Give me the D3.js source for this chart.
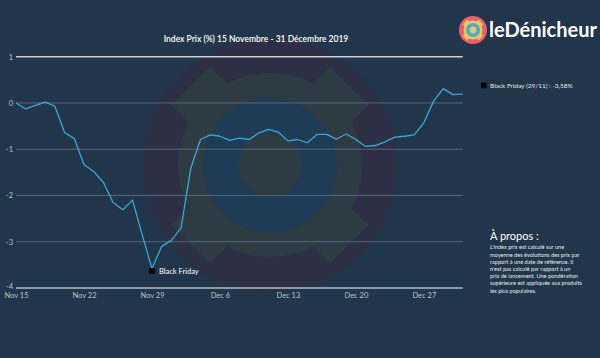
<!DOCTYPE html>
<html>
<head>
<meta charset="utf-8">
<script src="https://cdn.jsdelivr.net/npm/d3@7"></script>
<style>
html,body{margin:0;padding:0;background:#21364a;}
svg{display:block;}
text{font-family:Lato,"Open Sans",sans-serif;}
</style>
</head>
<body>
<svg id="chart" width="600" height="358"></svg>
<script>
// ---- data ----
const startDate = "2019-11-15";
const indexValues = [
  0.00, -0.13, -0.05, 0.02, -0.07, -0.64, -0.77, -1.33, -1.48, -1.72,
  -2.15, -2.31, -2.10, -2.85, -3.58, -3.10, -2.97, -2.70, -1.41, -0.79,
  -0.69, -0.72, -0.81, -0.76, -0.79, -0.65, -0.57, -0.63, -0.82, -0.79,
  -0.86, -0.68, -0.68, -0.78, -0.67, -0.79, -0.94, -0.92, -0.84, -0.74,
  -0.72, -0.69, -0.43, 0.04, 0.31, 0.18, 0.19
];
const xTickDates = ["2019-11-15","2019-11-22","2019-11-29","2019-12-06","2019-12-13","2019-12-20","2019-12-27"];
const xTickLabels = ["Nov 15","Nov 22","Nov 29","Dec 6","Dec 13","Dec 20","Dec 27"];
const yTicks = [1, 0, -1, -2, -3, -4];
const annotationDate = "2019-11-29";
const annotationLabel = "Black Friday";
const legendLabel = "Black Friday (29/11) : -3,58%";
const chartTitle = "Index Prix (%) 15 Novembre - 31 Décembre 2019";
const aboutTitle = "À propos :";
const aboutLines = [
  "L'index prix est calculé sur une",
  "moyenne des évolutions des prix par",
  "rapport à une date de référence. Il",
  "n'est pas calculé par rapport à un",
  "prix de lancement. Une pondération",
  "supérieure est appliquée aux produits",
  "les plus populaires."
];

const parse = d3.utcParse("%Y-%m-%d");
const t0 = parse(startDate);
const data = indexValues.map((v, i) => ({date: d3.utcDay.offset(t0, i), value: v}));

const svg = d3.select("#chart");
const W = 600, H = 358;
svg.append("rect").attr("width", W).attr("height", H).attr("fill", "#21364a");

// ---- watermark ----
const wm = svg.append("g").attr("transform", "translate(270,165)");
const cPurple = "#2d3045", cOlive = "#2d3c42", cBlue = "#1e3c55";
wm.append("circle").attr("r", 127).attr("fill", cPurple);
wm.append("circle").attr("r", 92).attr("fill", cOlive);
[45, -45].forEach(a => {
  wm.append("rect").attr("x", -27).attr("y", -112).attr("width", 54).attr("height", 224)
    .attr("fill", cOlive).attr("transform", `rotate(${a})`);
});
wm.append("circle").attr("r", 67).attr("fill", cBlue);
wm.append("circle").attr("r", 32).attr("fill", cOlive);

// ---- scales ----
const x = d3.scaleUtc()
  .domain([t0, data[data.length - 1].date])
  .range([16, 462.7]);
const y = d3.scaleLinear().domain([-4, 1]).range([288, 56.7]);

// ---- grid ----
const grid = svg.append("g");
yTicks.forEach(t => {
  const top = t === 1, bottom = t === -4;
  grid.append("line")
    .attr("x1", 16).attr("x2", 462.7)
    .attr("y1", y(t)).attr("y2", y(t))
    .attr("stroke", top ? "#c9d0d6" : bottom ? "#8e9ba7" : "#56677a")
    .attr("stroke-width", top ? 1.4 : bottom ? 1.8 : 1);
});

// ---- y axis labels ----
const yAxis = d3.axisLeft(y).tickValues(yTicks).tickSize(0).tickPadding(0).tickFormat(d3.format("d"));
const gy = svg.append("g").attr("transform", "translate(13,0)").call(yAxis);
gy.select(".domain").remove();
gy.selectAll("text").attr("fill", "#b9c3cc").attr("font-size", 7.5).attr("dy", d => d === -4 ? "0.1em" : "0.32em")
  .text(d => d < 0 ? "-" + Math.abs(d) : d);

// ---- x axis labels ----
const xTicks = xTickDates.map(parse);
const xAxis = d3.axisBottom(x).tickValues(xTicks).tickSize(0).tickPadding(0)
  .tickFormat((d, i) => xTickLabels[i]);
const gx = svg.append("g").attr("transform", "translate(0,292.5)").call(xAxis);
gx.select(".domain").remove();
gx.selectAll("text").attr("fill", "#b9c3cc").attr("font-size", 7.5).attr("dy", "0.71em");

// ---- line ----
const line = d3.line().x(d => x(d.date)).y(d => y(d.value));
svg.append("path").datum(data).attr("d", line)
  .attr("fill", "none").attr("stroke", "#3aa8d4").attr("stroke-width", 1.3)
  .attr("stroke-linejoin", "round");

// ---- annotation ----
const ad = data.find(d => +d.date === +parse(annotationDate));
svg.append("rect").attr("x", x(ad.date) - 2.8).attr("y", y(ad.value) - 0.5)
  .attr("width", 5.5).attr("height", 5.5).attr("fill", "#000");
svg.append("text").attr("x", x(ad.date) + 7).attr("y", y(ad.value) + 5)
  .attr("fill", "#ffffff").attr("font-size", 7.5).text(annotationLabel);

// ---- title ----
svg.append("text").attr("x", 256).attr("y", 42).attr("text-anchor", "middle")
  .attr("fill", "#ffffff").attr("font-size", 8.5).attr("font-weight", 600).text(chartTitle);

// ---- legend ----
svg.append("rect").attr("x", 481).attr("y", 82.7).attr("width", 5.5).attr("height", 5.5).attr("fill", "#000");
svg.append("text").attr("x", 490).attr("y", 88).attr("fill", "#e6eaee").attr("font-size", 6.5).text(legendLabel);

// ---- logo ----
const logo = svg.append("g").attr("transform", "translate(473,30)");
logo.append("circle").attr("r", 14).attr("fill", "#ee5a6f");
logo.append("circle").attr("r", 9.5).attr("fill", "#f6c74a");
[45, -45].forEach(a => {
  logo.append("rect").attr("x", -3.3).attr("y", -11.5).attr("width", 6.6).attr("height", 23)
    .attr("fill", "#f6c74a").attr("transform", `rotate(${a})`);
});
logo.append("circle").attr("r", 7).attr("fill", "#3bb0e3");
logo.append("circle").attr("r", 3.4).attr("fill", "#f6c74a");
svg.append("text").attr("x", 489).attr("y", 37).attr("fill", "#ffffff")
  .attr("font-size", 20).attr("font-weight", 700)
  .attr("textLength", 108).attr("lengthAdjust", "spacingAndGlyphs").text("leDénicheur");

// ---- about ----
svg.append("text").attr("x", 490).attr("y", 240).attr("fill", "#ffffff")
  .attr("font-size", 11).text(aboutTitle);
const ab = svg.append("text").attr("fill", "#e6eaee").attr("font-size", 5.6);
aboutLines.forEach((l, i) => {
  ab.append("tspan").attr("x", 490).attr("y", 249.3 + i * 7.2).text(l);
});
</script>
</body>
</html>
